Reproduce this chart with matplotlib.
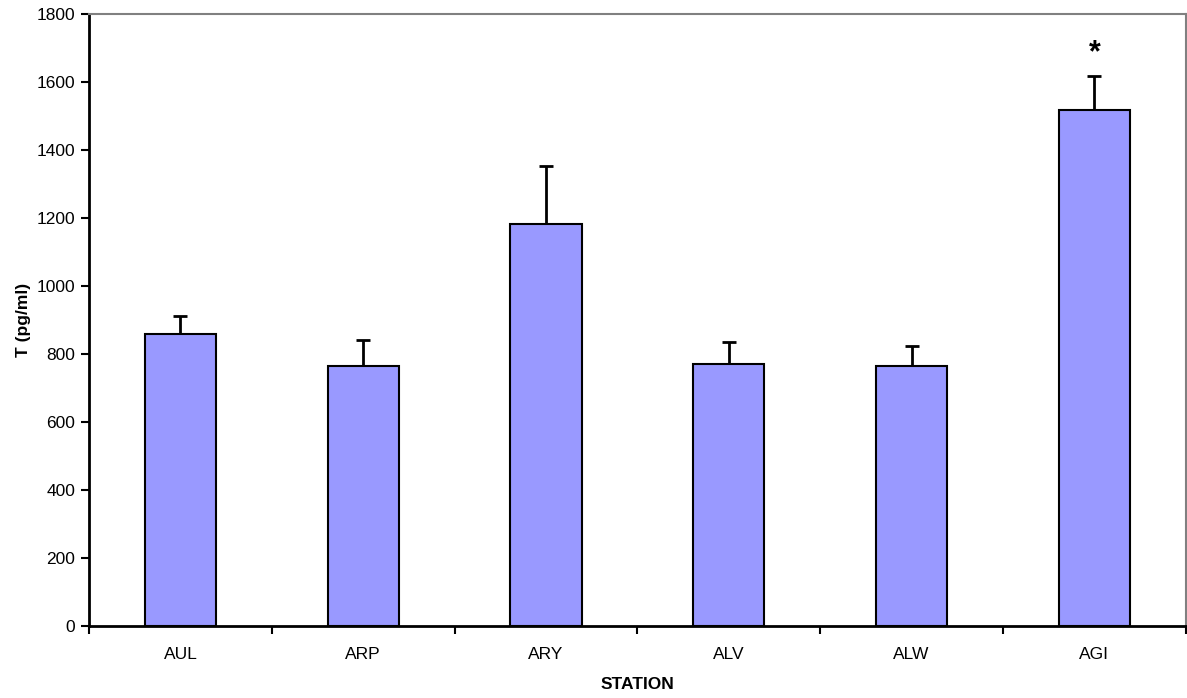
import numpy as np
import matplotlib
matplotlib.use("Agg")
import matplotlib.pyplot as plt

# ── Data ───────────────────────────────────────────────────────────────────
stations = ["AUL", "ARP", "ARY", "ALV", "ALW", "AGI"]
means = [859, 764, 1181, 770, 764, 1517]
errors = [54, 77, 173, 65, 60, 102]
signif = ["", "", "", "", "", "*"]

BAR = "#9999FF"
plt.rcParams["font.family"] = ["Liberation Sans", "DejaVu Sans"]

fig = plt.figure(figsize=(11.87, 6.98), dpi=100, facecolor="white")
ax = fig.add_axes([0.075, 0.1032, 0.924, 0.8768])

x = np.arange(len(stations))
ax.bar(x, means, width=0.39, color=BAR, edgecolor="black", linewidth=1.5, zorder=2)
_, caps, _ = ax.errorbar(x, means, yerr=[np.zeros(len(x)), errors], fmt="none",
                         ecolor="black", elinewidth=2, capsize=5, capthick=2, zorder=3)
# only the upper half of the whisker is drawn
caps[0].set_visible(False)

for xi, m, e, s in zip(x, means, errors, signif):
    if s:
        ax.text(xi, m + e + 65, s, ha="center", va="center",
                fontsize=22, fontweight="bold")

ax.set_xlim(-0.5, len(stations) - 0.5)
ax.set_ylim(0, 1800)
ax.set_yticks(np.arange(0, 1801, 200))
ax.set_xticks(x)
ax.set_xticklabels(stations)
ax.set_xticks(np.arange(-0.5, len(stations)), minor=True)
ax.tick_params(axis="x", which="major", length=0, pad=15, labelsize=12.5)
ax.tick_params(axis="x", which="minor", length=6, width=1.5, direction="out")
ax.tick_params(axis="y", length=6, width=1.5, direction="out", labelsize=12.5, pad=4)

for side in ["left", "bottom"]:
    ax.spines[side].set_linewidth(2)
    ax.spines[side].set_color("black")
for side in ["top", "right"]:
    ax.spines[side].set_linewidth(1.5)
    ax.spines[side].set_color("#808080")

ax.set_xlabel("STATION", fontsize=12.5, fontweight="bold", labelpad=11)
ax.set_ylabel("T (pg/ml)", fontsize=12.5, fontweight="bold", labelpad=4)

fig.savefig("out.png", dpi=100, facecolor="white")
